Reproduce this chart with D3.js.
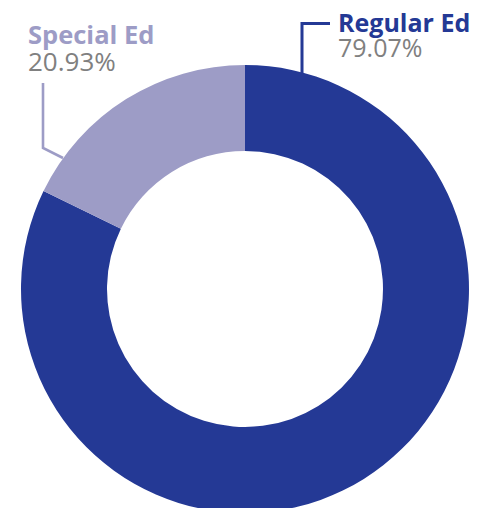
<!DOCTYPE html>
<html>
<head>
<meta charset="utf-8">
<script src="https://cdn.jsdelivr.net/npm/d3@7"></script>
<style>
  html, body { margin: 0; padding: 0; background: #fff; }
  svg { display: block; }
</style>
</head>
<body>
<svg id="chart" width="484" height="508"></svg>
<script>
// Data (slice shares as drawn in the picture; labels as printed)
const categories = ["Regular Ed", "Special Ed"];
const sliceShares = [82.2, 17.8];
const percentLabels = ["79.07%", "20.93%"];
const colors = ["#243995", "#9d9cc6"];

const svg = d3.select("#chart");
const cx = 245, cy = 289, outerR = 224, innerR = 138;

const pie = d3.pie().sort(null).value(d => d)
  .startAngle(0).endAngle(2 * Math.PI);
const arcs = pie(sliceShares);
const arcGen = d3.arc().innerRadius(innerR).outerRadius(outerR);

const g = svg.append("g").attr("transform", `translate(${cx},${cy})`);
g.selectAll("path").data(arcs).enter().append("path")
  .attr("d", arcGen)
  .attr("fill", (d, i) => colors[i]);

// Leader lines (layout)
svg.append("polyline")
  .attr("points", "302,73 302,23.5 330,23.5")
  .attr("fill", "none").attr("stroke", colors[0]).attr("stroke-width", 3);
svg.append("polyline")
  .attr("points", "43,83 43,148 63,158")
  .attr("fill", "none").attr("stroke", colors[1]).attr("stroke-width", 2.6);

// Labels
const labelPos = [
  {x: 338, y1: 32, y2: 57, fs1: 25, fs2: 25},
  {x: 28, y1: 44, y2: 70.5, fs1: 25.5, fs2: 26}
];
const font = "'Open Sans', sans-serif";
categories.forEach((c, i) => {
  svg.append("text").attr("x", labelPos[i].x).attr("y", labelPos[i].y1)
    .attr("font-family", font).attr("font-weight", 700).attr("font-size", labelPos[i].fs1)
    .attr("fill", colors[i]).text(c);
  svg.append("text").attr("x", labelPos[i].x).attr("y", labelPos[i].y2)
    .attr("font-family", font).attr("font-weight", 400).attr("font-size", labelPos[i].fs2)
    .attr("fill", "#808080").text(percentLabels[i]);
});
</script>
</body>
</html>
